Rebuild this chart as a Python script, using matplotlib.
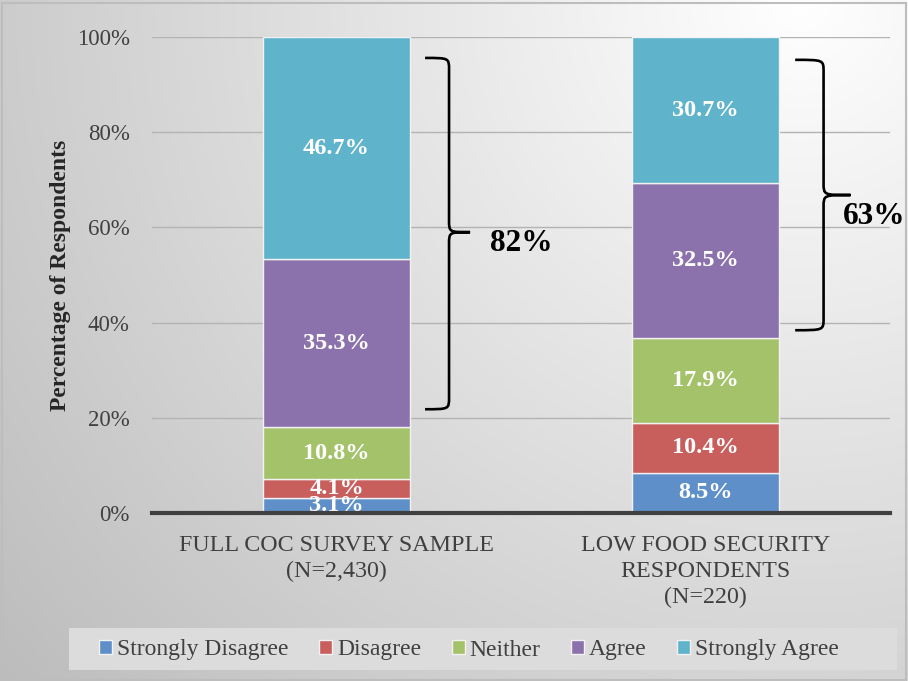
import numpy as np
import matplotlib
matplotlib.use("Agg")
import matplotlib.pyplot as plt
from matplotlib.path import Path
from matplotlib.patches import PathPatch, Rectangle
from matplotlib.ticker import FuncFormatter

plt.rcParams['font.family'] = ['Liberation Serif', 'DejaVu Serif']

# --- data -----------------------------------------------------------------
groups = ["FULL COC SURVEY SAMPLE\n(N=2,430)",
          "LOW FOOD SECURITY\nRESPONDENTS\n(N=220)"]
responses = ["Strongly Disagree", "Disagree", "Neither", "Agree", "Strongly Agree"]
strongly_disagree = [3.1, 8.5]
disagree = [4.1, 10.4]
neither = [10.8, 17.9]
agree = [35.3, 32.5]
strongly_agree = [46.7, 30.7]
series = [strongly_disagree, disagree, neither, agree, strongly_agree]
colors = ["#5f8fc8", "#c85f5d", "#a4c26a", "#8c72ad", "#5fb3cb"]

# brace extents (percent): bottom, top, tip
brace_spans = [(21.8, 95.6, 59.0), (38.4, 95.2, 66.8)]

# --- figure ---------------------------------------------------------------
W, H = 908, 681
fig = plt.figure(figsize=(W / 100, H / 100), dpi=100)

# soft radial background
bg = fig.add_axes([0, 0, 1, 1], zorder=-10)
yy, xx = np.mgrid[0:H, 0:W]
d = np.hypot(xx - 800, yy - 0) / 1000.0
val = np.clip(1.0 - 0.25 * d, 0, 1)
bg.imshow(np.dstack([val, val, val]), extent=[0, 1, 0, 1], aspect='auto',
          origin='upper')
bg.set_axis_off()
fig.patches.append(Rectangle((0.002, 0.002), 0.996, 0.993, transform=fig.transFigure,
                             fill=False, edgecolor='#bdbdbd', linewidth=1.5))

# legend band
fig.patches.append(Rectangle((69 / W, 1 - 670 / H), (897 - 69) / W, 42 / H,
                             transform=fig.transFigure, facecolor='#dcdcdc',
                             edgecolor='none', zorder=0))

ax = fig.add_axes([152 / W, 1 - 513 / H, (890 - 152) / W, (513 - 37) / H])
ax.set_facecolor('none')

x = np.arange(len(groups))
bottom = np.zeros(len(groups))
for name, vals, c in zip(responses, series, colors):
    vals = np.array(vals)
    ax.bar(x, vals, 0.4, bottom=bottom, color=c, edgecolor='#f2f2f2',
           linewidth=1.0, label=name, zorder=2)
    for xi, b, v in zip(x, bottom, vals):
        ax.text(xi, b + v / 2, f"{v:.1f}%", ha='center', va='center',
                color='white', fontsize=17.5, fontweight='bold', zorder=3)
    bottom += vals

ax.set_xlim(-0.5, 1.5)
ax.set_ylim(0, 100)
ax.set_yticks(np.arange(0, 101, 20))
ax.yaxis.set_major_formatter(FuncFormatter(lambda v, p: f"{v:.0f}%"))
ax.grid(axis='y', color='#b3b3b3', linewidth=1.0, zorder=0)
ax.set_axisbelow(True)
for s in ['top', 'right', 'left']:
    ax.spines[s].set_visible(False)
ax.spines['bottom'].set_color('#404040')
ax.spines['bottom'].set_linewidth(3.0)
ax.spines['bottom'].set_zorder(5)
ax.tick_params(axis='y', length=0, labelsize=16.5, labelcolor='#404040', pad=16)
ax.tick_params(axis='x', length=0, labelsize=17.3, labelcolor='#404040', pad=15.5)
ax.set_xticks(x)
ax.set_xticklabels(groups, linespacing=1.32)
ax.set_ylabel("Percentage of Respondents", fontsize=17, fontweight='bold',
              color='#262626', labelpad=4)


def brace(ax, xl, xv, xt, ybot, ytop, ymid, r=2.5):
    verts = [(xl, ytop), (xv, ytop), (xv, ytop), (xv, ytop - r),
             (xv, ymid + r),
             (xv, ymid), (xv, ymid), (xt, ymid),
             (xv, ymid), (xv, ymid), (xv, ymid - r),
             (xv, ybot + r),
             (xv, ybot), (xv, ybot), (xl, ybot)]
    codes = [Path.MOVETO, Path.CURVE4, Path.CURVE4, Path.CURVE4,
             Path.LINETO,
             Path.CURVE4, Path.CURVE4, Path.CURVE4,
             Path.CURVE4, Path.CURVE4, Path.CURVE4,
             Path.LINETO,
             Path.CURVE4, Path.CURVE4, Path.CURVE4]
    ax.add_patch(PathPatch(Path(verts, codes), fill=False, edgecolor='black',
                           linewidth=1.9, zorder=4, clip_on=False))


agree_total = np.array(agree) + np.array(strongly_agree)
# x positions: brace ends, spine, tip, label left edge, label drop below tip
brace_x = [(0.240, 0.305, 0.362, 0.416, 2.3), (1.243, 1.320, 1.393, 1.373, 4.5)]
for i, ((yb, yt, ym), (xl, xv, xt, xtxt, dy)) in enumerate(zip(brace_spans, brace_x)):
    brace(ax, xl, xv, xt, yb, yt, ym)
    ax.text(xtxt, ym - dy, f"{agree_total[i]:.0f}%", ha='left', va='center',
            fontsize=22.5, fontweight='bold', color='black', clip_on=False)

leg = fig.legend(loc='center', bbox_to_anchor=(469 / W, 1 - 650 / H),
                 ncol=5, frameon=False, fontsize=17,
                 handlelength=0.55, handleheight=0.55, handletextpad=0.2,
                 borderaxespad=0, borderpad=0, columnspacing=1.3)
for t in leg.get_texts():
    t.set_color('#404040')
for h in leg.legend_handles:
    h.set_edgecolor('#f2f2f2')

fig.savefig("out.png", dpi=100)
